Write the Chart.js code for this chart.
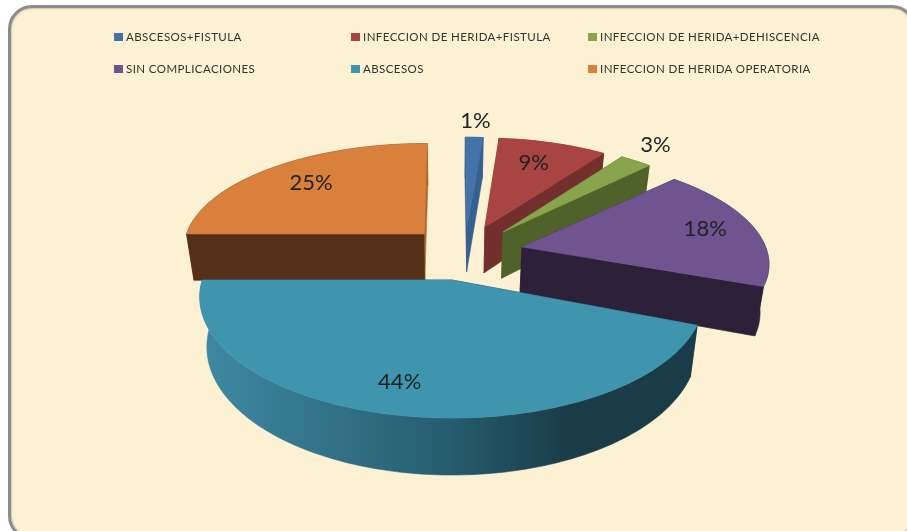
<!DOCTYPE html>
<html>
<head>
<meta charset="utf-8">
<script src="https://cdn.jsdelivr.net/npm/chart.js@4"></script>
<style>
html, body { margin: 0; padding: 0; background: #fff; overflow: hidden; }
#marco {
    position: absolute; left: 8px; top: 5px; width: 908px; height: 535px;
    box-sizing: border-box; background: #fdf1d3; border: 3px solid #8c8c8c;
    border-radius: 24px; box-shadow: inset 0 0 2px #777;
}
canvas { position: absolute; left: 0; top: 0; }
.ley {
    position: absolute; font: 11.5px Lato, sans-serif; color: #333; white-space: nowrap;
    letter-spacing: 0.42px;
}
.ley i { position: absolute; left: -12px; top: 3px; width: 9px; height: 8px; }
</style>
</head>
<body>
<div id="marco"></div>
<canvas id="grafico" width="907" height="531"></canvas>
<div id="leyenda"></div>
<script>
const categorias = ['ABSCESOS+FISTULA', 'INFECCION DE HERIDA+FISTULA', 'INFECCION DE HERIDA+DEHISCENCIA',
    'SIN COMPLICACIONES', 'ABSCESOS', 'INFECCION DE HERIDA OPERATORIA'];
const valores = [1.4, 8.6, 2.5, 18.4, 44.1, 25];

const colores = ['#4373a8', '#a84543', '#88a54c', '#705490', '#4095ae', '#d9813c'];
const coloresPared = ['#35608f', '#722f2e', '#4f6229', '#2d2139', '#1a3b48', '#552f17'];
const coloresCorte = ['#35608f', '#722f2e', '#4f6229', '#2d2139', '#1a3b48', '#b06a30'];

// desplazamiento de cada porcion sobre el plano, en radios
const despU = [0.064, 0.14, 0.2154, 0.29, 0, -0.118];
const despV = [-0.486, -0.4763, -0.4284, -0.2892, 0, -0.4097];
const escalaU = [0.97, 0.97, 0.98, 1.01, 0.995, 1];
const escalaV = [0.96, 0.96, 0.97, 0.95, 1, 0.96];
// etiquetas: distancia al vertice y giro en grados
const radioEtiqueta = [1.16, 0.71, 1.19, 0.8, 0.79, 0.73];
const giroEtiqueta = [0, -1, -1.5, 0, 3, 0];
const ordenDibujo = [5, 0, 1, 2, 3, 4];

const aplanado = 0.473, perspectiva = 0.14, alturaPie = 49, fuga = 0.972;

function proyectar(arc, u, v){
    const f = 1 / (1 - perspectiva * v);
    return {
        x: arc.x + arc.outerRadius * u * f,
        y: arc.y + arc.outerRadius * aplanado * v * f,
        f: f
    };
}
function abajo(arc, p){
    return { x: arc.x + (p.x - arc.x) * fuga, y: p.y + alturaPie * p.f };
}
function poligono(ctx, puntos, color){
    ctx.beginPath();
    puntos.forEach((p, i) => i ? ctx.lineTo(p.x, p.y) : ctx.moveTo(p.x, p.y));
    ctx.closePath();
    ctx.fillStyle = color;
    ctx.strokeStyle = color;
    ctx.lineWidth = 0.6;
    ctx.fill();
    ctx.stroke();
}
function dibujarPorcion(ctx, arc, i){
    const u0 = despU[i], v0 = despV[i];
    const pasos = Math.max(4, Math.round((arc.endAngle - arc.startAngle) / 0.02));
    const borde = [];
    for(let k = 0; k <= pasos; k++){
        const a = arc.startAngle + (arc.endAngle - arc.startAngle) * k / pasos;
        borde.push(proyectar(arc, u0 + escalaU[i] * Math.cos(a), v0 + escalaV[i] * Math.sin(a)));
    }
    const centro = proyectar(arc, u0, v0);
    let colorPared = coloresPared[i];
    if(i === 4){
        const grad = ctx.createLinearGradient(200, 0, 700, 0);
        grad.addColorStop(0, '#3f89a3');
        grad.addColorStop(0.5, '#265c6e');
        grad.addColorStop(0.74, '#1a3b48');
        grad.addColorStop(1, '#1a3b48');
        colorPared = grad;
    }
    const caraInicio = [centro, borde[0], abajo(arc, borde[0]), abajo(arc, centro)];
    const caraFin = [centro, borde[pasos], abajo(arc, borde[pasos]), abajo(arc, centro)];
    const inicioAlFrente = -Math.cos(arc.startAngle) > 0.001;
    const finAlFrente = Math.cos(arc.endAngle) > -0.001;
    // primero las caras de atras, luego la pared curva, luego las del frente
    if(!inicioAlFrente) poligono(ctx, caraInicio, coloresPared[i]);
    if(!finAlFrente) poligono(ctx, caraFin, coloresCorte[i]);
    poligono(ctx, borde.concat(borde.slice().reverse().map(p => abajo(arc, p))), colorPared);
    if(finAlFrente) poligono(ctx, caraFin, coloresCorte[i]);
    if(inicioAlFrente) poligono(ctx, caraInicio, coloresPared[i]);
    poligono(ctx, [centro].concat(borde), colores[i]);
}

const pie3d = {
    id: 'pie3d',
    beforeDatasetsDraw(chart){
        const ctx = chart.ctx;
        const arcos = chart.getDatasetMeta(0).data;
        ctx.save();
        ordenDibujo.forEach(i => dibujarPorcion(ctx, arcos[i], i));
        ctx.font = '22px Lato, sans-serif';
        ctx.fillStyle = '#222';
        ctx.textAlign = 'center';
        ctx.textBaseline = 'middle';
        arcos.forEach((arc, i) => {
            const a = (arc.startAngle + arc.endAngle) / 2 + giroEtiqueta[i] * Math.PI / 180;
            const p = proyectar(arc, despU[i] + radioEtiqueta[i] * Math.cos(a), despV[i] + radioEtiqueta[i] * Math.sin(a));
            ctx.fillText(Math.round(valores[i]) + '%', p.x, p.y);
        });
        ctx.restore();
        return false;
    }
};

new Chart(document.getElementById('grafico'), {
    type: 'pie',
    data: {
        labels: categorias,
        datasets: [{ data: valores, backgroundColor: colores, borderWidth: 0 }]
    },
    options: {
        responsive: false,
        animation: false,
        layout: { padding: { top: 29, bottom: 0, left: 0, right: 3 } },
        plugins: {
            legend: { display: false },
            tooltip: { enabled: false }
        }
    },
    plugins: [pie3d]
});

// leyenda en tres columnas
const leyenda = document.getElementById('leyenda');
categorias.forEach((nombre, i) => {
    const d = document.createElement('div');
    d.className = 'ley';
    d.style.left = (126 + (i % 3) * 237) + 'px';
    d.style.top = (29.5 + Math.floor(i / 3) * 32) + 'px';
    d.innerHTML = '<i style="background:' + colores[i] + '"></i>' + nombre;
    leyenda.appendChild(d);
});
</script>
</body>
</html>
